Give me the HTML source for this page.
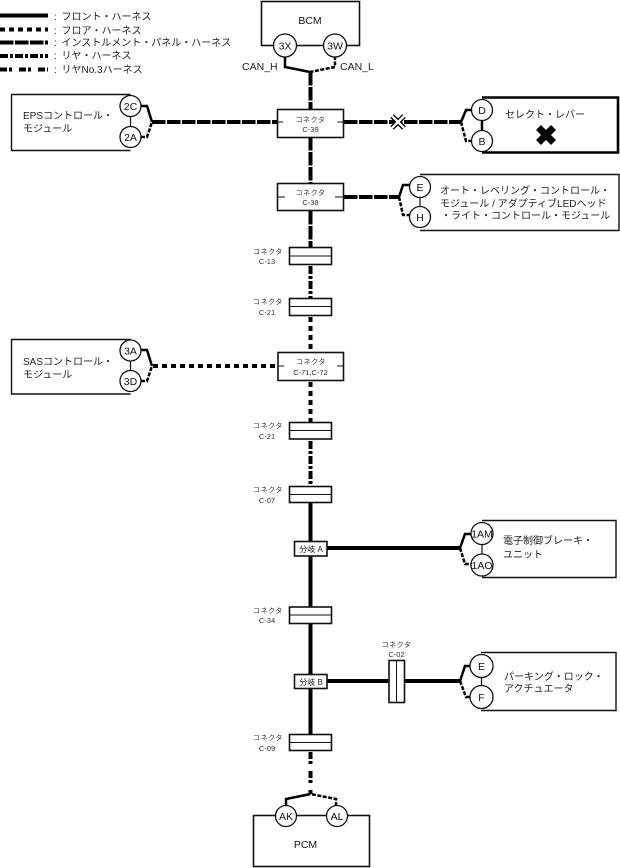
<!DOCTYPE html>
<html><head><meta charset="utf-8"><style>
html,body{margin:0;padding:0;background:#fff}
svg{display:block}
text{font-family:"Liberation Sans","Noto Sans CJK JP",sans-serif;fill:#222;font-size:10px}
.s{font-size:7.5px;text-anchor:middle;fill:#333}
.k{font-size:7px;text-anchor:middle;fill:#333;letter-spacing:.5px}
.t{font-size:10.5px;text-anchor:middle;fill:#111}
.c{fill:#fff;stroke:#111;stroke-width:1.3}
.b{fill:#fff;stroke:#111;stroke-width:1.6}
.w{fill:none;stroke:#000}
.f{fill:none;stroke:#000;stroke-width:2.5}
.d{fill:none;stroke:#000;stroke-width:2.5;stroke-dasharray:4 1.5}
.solid{stroke-width:4}
.floor{stroke-width:4;stroke-dasharray:5 4}
.panel{stroke-width:4;stroke-dasharray:13.5 1.5}
.rear{stroke-width:4;stroke-dasharray:8 2 3 2}
.no3{stroke-width:4;stroke-dasharray:7 2 3 7}
</style></head><body>
<svg width="620" height="868" viewBox="0 0 620 868" xmlns="http://www.w3.org/2000/svg">
<!-- legend -->
<path class="w solid" d="M0 15.5H48"/>
<path class="w floor" d="M0 29.5H48"/>
<path class="w panel" d="M0 42.5H48"/>
<path class="w rear" d="M0 56H48"/>
<path class="w no3" d="M0 69.5H48"/>
<text x="54" y="20">:</text><text x="61.5" y="20">フロント・ハーネス</text>
<text x="54" y="34">:</text><text x="61.5" y="34">フロア・ハーネス</text>
<text x="54" y="46">:</text><text x="61.5" y="46">インストルメント・パネル・ハーネス</text>
<text x="54" y="59">:</text><text x="61.5" y="59">リヤ・ハーネス</text>
<text x="54" y="73">:</text><text x="61.5" y="73">リヤNo.3ハーネス</text>

<!-- main vertical -->
<path class="w panel" d="M310.5 72V110"/>
<path class="w panel" d="M310.5 137V183"/>
<path class="w panel" d="M310.5 211V247"/>
<path class="w rear" d="M310.5 266V298"/>
<path class="w floor" d="M310.5 317V352"/>
<path class="w floor" d="M310.5 382V422"/>
<path class="w rear" d="M310.5 441V486"/>
<path class="w solid" d="M310.5 502V541"/>
<path class="w solid" d="M310.5 556V607"/>
<path class="w solid" d="M310.5 623V674"/>
<path class="w solid" d="M310.5 688V734"/>
<path class="w no3" d="M310.5 752V794"/>

<!-- horizontals -->
<path class="w panel" d="M152 122H278"/>
<path class="w panel" d="M344 122H461"/>
<path class="w panel" d="M344 197H399"/>
<path class="w floor" d="M153 366H278"/>
<path class="w solid" d="M327 548H460"/>
<path class="w solid" d="M327 681H460"/>

<!-- BCM -->
<rect class="b" x="261.5" y="1.5" width="98" height="44"/>
<text class="t" x="310" y="24">BCM</text>
<path class="f" d="M285 56V67L310 72"/>
<path class="d" d="M335 56V67L310 72"/>
<circle class="c" cx="285" cy="45.5" r="11.5"/><text class="t" x="285" y="49.5">3X</text>
<circle class="c" cx="335" cy="45.5" r="11.5"/><text class="t" x="335" y="49.5">3W</text>
<text x="242" y="70" style="font-size:10.5px">CAN_H</text>
<text x="340" y="70" style="font-size:10.5px">CAN_L</text>

<!-- EPS -->
<path d="M130.5 94.5H11.5V150.5H130.5" fill="none" stroke="#111" stroke-width="1.4"/>
<path d="M130.5 106V137" stroke="#111" stroke-width="1.2"/>
<path class="f" d="M141 106H147L152 122"/>
<path class="d" d="M141 137H147L152 122"/>
<circle class="c" cx="130.5" cy="106" r="10.5"/><text class="t" x="130.5" y="110">2C</text>
<circle class="c" cx="130.5" cy="137" r="10.5"/><text class="t" x="130.5" y="141">2A</text>
<text x="23" y="119">EPSコントロール・</text>
<text x="23" y="132">モジュール</text>

<!-- C-39 -->
<rect class="b" x="277.5" y="109.5" width="66" height="28"/>
<path d="M277.5 122H283M337.5 122H343.5" stroke="#111"/>
<text class="k" x="310.5" y="122">コネクタ</text>
<text class="s" x="310.5" y="132">C-39</text>

<!-- cross marker -->
<path d="M392 116L404 128M404 116L392 128" stroke="#000" stroke-width="5"/>
<path d="M392 116L404 128M404 116L392 128" stroke="#fff" stroke-width="2.4"/>

<!-- select lever -->
<path d="M482 97.5H618V152.5H482" fill="none" stroke="#000" stroke-width="2.6"/>
<path d="M482 110V141" stroke="#000" stroke-width="2.5"/>
<path class="f" d="M461 122L466 110H472"/>
<path class="d" d="M461 122L466 141H472"/>
<circle class="c" cx="482" cy="110" r="10.5"/><text class="t" x="482" y="114">D</text>
<circle class="c" cx="482" cy="141" r="10.5"/><text class="t" x="482" y="145">B</text>
<text x="505" y="118">セレクト・レバー</text>
<path d="M538.5 127.5L553.5 142.5M553.5 127.5L538.5 142.5" stroke="#000" stroke-width="7"/>

<!-- C-38 -->
<rect class="b" x="277.5" y="183.5" width="66" height="27"/>
<path d="M277.5 197H285M335 197H343.5" stroke="#111"/>
<text class="k" x="310.5" y="195">コネクタ</text>
<text class="s" x="310.5" y="205">C-38</text>

<!-- leveling -->
<path d="M420 174.5H619V230.5H420" fill="none" stroke="#111" stroke-width="1.4"/>
<path d="M420 187V217" stroke="#111" stroke-width="1.2"/>
<path class="f" d="M399 197L403 185H410"/>
<path class="d" d="M399 197L403 215H410"/>
<circle class="c" cx="420" cy="187" r="10.5"/><text class="t" x="420" y="191">E</text>
<circle class="c" cx="420" cy="217" r="10.5"/><text class="t" x="420" y="221">H</text>
<text x="440" y="194">オート・レベリング・コントロール・</text>
<text x="440" y="207">モジュール / アダプティブLEDヘッド</text>
<text x="441" y="219">・ライト・コントロール・モジュール</text>

<!-- inline connectors -->
<g>
<rect class="b" x="289.5" y="247.5" width="42" height="17"/><path d="M289.5 256H331.5" stroke="#111"/>
<rect class="b" x="289.5" y="298.5" width="42" height="17"/><path d="M289.5 306.5H331.5" stroke="#111"/>
<rect class="b" x="289.5" y="422.5" width="42" height="16.5"/><path d="M289.5 430.5H331.5" stroke="#111"/>
<rect class="b" x="289.5" y="486.5" width="42" height="16"/><path d="M289.5 494.5H331.5" stroke="#111"/>
<rect class="b" x="289.5" y="607" width="42" height="16.5"/><path d="M289.5 615H331.5" stroke="#111"/>
<rect class="b" x="289.5" y="734.5" width="42" height="16"/><path d="M289.5 742.5H331.5" stroke="#111"/>
</g>
<text class="k" x="268" y="254">コネクタ</text><text class="s" x="267" y="264">C-13</text>
<text class="k" x="268" y="304">コネクタ</text><text class="s" x="267" y="315">C-21</text>
<text class="k" x="268" y="428">コネクタ</text><text class="s" x="267" y="439">C-21</text>
<text class="k" x="268" y="492">コネクタ</text><text class="s" x="267" y="503">C-07</text>
<text class="k" x="268" y="613">コネクタ</text><text class="s" x="267" y="623">C-34</text>
<text class="k" x="268" y="740">コネクタ</text><text class="s" x="267" y="751">C-09</text>

<!-- C-71 -->
<rect class="b" x="278" y="352.5" width="65.5" height="28"/>
<path d="M278 366H284M337 366H343.5" stroke="#111"/>
<text class="k" x="311" y="364">コネクタ</text>
<text class="s" x="310.5" y="375">C-71,C-72</text>

<!-- SAS -->
<path d="M130.5 339.5H11.5V394H130.5" fill="none" stroke="#111" stroke-width="1.4"/>
<path d="M130.5 350V381" stroke="#111" stroke-width="1.2"/>
<path class="f" d="M141 350H147L152 366"/>
<path class="d" d="M141 381H147L152 366"/>
<circle class="c" cx="130.5" cy="350.5" r="10.5"/><text class="t" x="130.5" y="354.5">3A</text>
<circle class="c" cx="130.5" cy="381" r="10.5"/><text class="t" x="130.5" y="385">3D</text>
<text x="23" y="365">SASコントロール・</text>
<text x="23" y="378">モジュール</text>

<!-- branch A -->
<rect class="b" x="294.5" y="541.5" width="32.5" height="14.5"/>
<text x="311" y="552" style="font-size:8px;text-anchor:middle">分岐 A</text>
<path d="M482 520.5H616V577.5H482" fill="none" stroke="#111" stroke-width="1.4"/>
<path d="M482 534V565" stroke="#111" stroke-width="1.2"/>
<path class="f" d="M460 548L465 534H472"/>
<path class="d" d="M460 548L465 564H472"/>
<circle class="c" cx="482" cy="533.5" r="11"/><text class="t" x="482" y="537.5">1AM</text>
<circle class="c" cx="482" cy="565" r="11"/><text class="t" x="482" y="569">1AO</text>
<text x="503" y="544">電子制御ブレーキ・</text>
<text x="503" y="558">ユニット</text>

<!-- branch B -->
<rect class="b" x="294.5" y="674.5" width="32.5" height="14"/>
<text x="311" y="685" style="font-size:8px;text-anchor:middle">分岐 B</text>
<rect class="b" x="389" y="660.5" width="15.5" height="42"/><path d="M396.5 660.5V702.5" stroke="#111"/>
<text class="k" x="396.5" y="647">コネクタ</text>
<text class="s" x="396.5" y="657">C-02</text>
<path d="M481 652.5H616V710.5H481" fill="none" stroke="#111" stroke-width="1.4"/>
<path d="M481.5 666V697" stroke="#111" stroke-width="1.2"/>
<path class="f" d="M460 681L465 666H472"/>
<path class="d" d="M460 681L466 697H472"/>
<circle class="c" cx="481.5" cy="666" r="11.5"/><text class="t" x="481.5" y="670">E</text>
<circle class="c" cx="481.5" cy="697" r="11.5"/><text class="t" x="481.5" y="701">F</text>
<text x="504" y="680">パーキング・ロック・</text>
<text x="504" y="692">アクチュエータ</text>

<!-- PCM -->
<rect class="b" x="253.5" y="815.5" width="116" height="51"/>
<text class="t" x="305.5" y="848">PCM</text>
<path class="f" d="M286 806V799L310.5 794"/>
<path class="d" d="M336 806V799L310.5 794"/>
<circle class="c" cx="286" cy="816" r="10.5"/><text class="t" x="286" y="820">AK</text>
<circle class="c" cx="337" cy="816" r="10.5"/><text class="t" x="337" y="820">AL</text>
</svg>
</body></html>
